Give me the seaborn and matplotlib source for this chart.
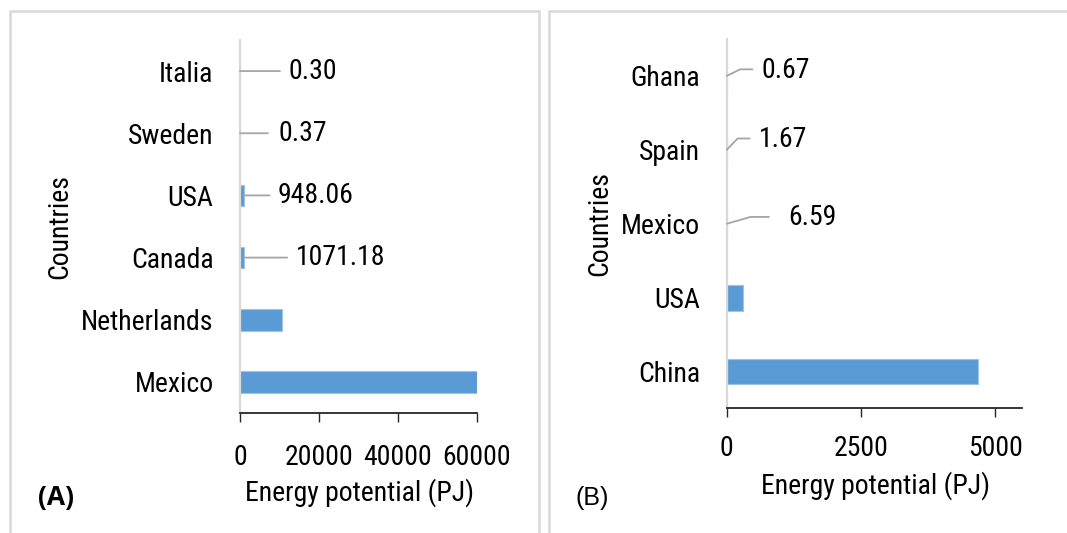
import matplotlib
matplotlib.use("Agg")
import matplotlib.pyplot as plt
import seaborn as sns
import pandas as pd
from matplotlib.patches import Rectangle
from matplotlib import font_manager

# Panel A: energy potential by country (PJ)
countries_a = ["Italia", "Sweden", "USA", "Canada", "Netherlands", "Mexico"]
energy_a = [0.30, 0.37, 948.06, 1071.18, 10700, 60000]
labelled_a = [True, True, True, True, False, False]
ticks_a = [0, 20000, 40000, 60000]

# Panel B: energy potential by country (PJ)
countries_b = ["Ghana", "Spain", "Mexico", "USA", "China"]
energy_b = [0.67, 1.67, 6.59, 300, 4690]
labelled_b = [True, True, True, False, False]
ticks_b = [0, 2500, 5000]

sns.set_theme(style="white")

# prefer a narrow sans face when one is installed
_entries = font_manager.fontManager.ttflist
_names = {f.name for f in _entries}
_narrow = None
for cand in ["Liberation Sans Narrow", "Arial Narrow", "Roboto Condensed",
             "Open Sans Condensed", "DejaVu Sans Condensed"]:
    if cand in _names:
        _narrow = cand
        break
STRETCH = "normal"
if _narrow is None:
    for f in _entries:
        if f.name in ("Roboto", "DejaVu Sans", "Open Sans") and str(f.stretch) in ("condensed", "semi-condensed", "75", "87.5"):
            _narrow = f.name
            STRETCH = "condensed"
            break
families = ([_narrow] if _narrow else []) + ["Liberation Sans", "DejaVu Sans"]
plt.rcParams["font.family"] = families
plt.rcParams["font.stretch"] = STRETCH
FS = 20 if _narrow else 18

BAR = "#5B9BD5"
BAR_EDGE = "#9DC3E6"
LEADER = "#A6A6A6"
AXIS_LIGHT = "#D9D9D9"
AXIS_DARK = "#262626"

W, H = 1067, 533
fig = plt.figure(figsize=(W / 100, H / 100), dpi=100)
fig.patch.set_facecolor("white")


def px_axes(x0, y_top, x1, y_bot):
    return fig.add_axes([x0 / W, 1 - y_bot / H, (x1 - x0) / W, (y_bot - y_top) / H])


ax_a = px_axes(240, 40, 477, 413)
ax_b = px_axes(726.6, 39, 1022, 408.4)

# leader-line styling per labelled bar: (line dx, line dy, text dx, text dy, bend angle)
leaders_a = [(40, 0, 48, 0, 0), (28, 0, 38, 0, 0), (26, 0, 34, 0, 0), (43, 0, 52, 0, 0)]
leaders_b = [(25.7, 6.6, 34.7, 5.6, 26), (23, 11.3, 32, 10, 46), (42, 6.8, 61, 6.2, 16)]


def draw_panel(ax, countries, values, labelled, ticks, xmax, leaders,
               ylab_x, xlab_y, xpad):
    df = pd.DataFrame({"Country": countries, "Energy": values})
    sns.barplot(data=df, x="Energy", y="Country", orient="h", ax=ax,
                color=BAR, width=0.35, edgecolor=BAR_EDGE, linewidth=0.8,
                saturation=1)
    ax.set_xlim(0, xmax)
    ax.set_ylim(len(countries) - 0.5, -0.5)
    ax.set_xticks(ticks)
    ax.set_xticklabels([str(t) for t in ticks])
    for s in ("top", "right"):
        ax.spines[s].set_visible(False)
    ax.spines["left"].set_color(AXIS_LIGHT)
    ax.spines["left"].set_linewidth(1.6)
    ax.spines["bottom"].set_color(AXIS_DARK)
    ax.spines["bottom"].set_linewidth(1.3)
    ax.tick_params(axis="x", bottom=True, direction="out", length=6.5, width=1.0,
                   color=AXIS_DARK, labelsize=FS, labelcolor="black", pad=xpad)
    ax.tick_params(axis="y", left=False, length=0, labelsize=FS, labelcolor="black", pad=19)
    ax.set_xlabel("Energy potential (PJ)", fontsize=FS, color="black", va="center")
    ax.set_ylabel("Countries", fontsize=FS, color="black", va="center")
    ax.xaxis.set_label_coords(0.505, xlab_y)
    ax.yaxis.set_label_coords(ylab_x, 0.5)
    ax.grid(False)

    k = 0
    for i, (v, lab) in enumerate(zip(values, labelled)):
        if not lab:
            continue
        lx, ly, tx, ty, ang = leaders[k]
        k += 1
        cs = "arc3" if ang == 0 else f"angle,angleA=0,angleB={ang},rad=0"
        ax.annotate("", xy=(v, i), xytext=(lx, ly), textcoords="offset pixels",
                    arrowprops=dict(arrowstyle="-", color=LEADER, lw=1.3,
                                    shrinkA=0, shrinkB=0, connectionstyle=cs))
        ax.annotate(f"{v:.2f}", xy=(v, i), xytext=(tx, ty), textcoords="offset pixels",
                    ha="left", va="center", fontsize=FS, color="black")


draw_panel(ax_a, countries_a, energy_a, labelled_a, ticks_a, 60000, leaders_a,
           -0.76, -0.2145, 16)
draw_panel(ax_b, countries_b, energy_b, labelled_b, ticks_b, 5500, leaders_b,
           -0.43, -0.209, 12.5)

# panel frames
for x0, x1 in ((10, 539), (549, 1080)):
    fig.add_artist(Rectangle((x0 / W, -0.05), (x1 - x0) / W, 1.05 - 11 / H,
                             transform=fig.transFigure, fill=False,
                             edgecolor=AXIS_LIGHT, linewidth=1.8))

fig.text(38 / W, 1 - 498 / H, "(A)", fontsize=19, fontweight="bold",
         family=["Open Sans", "DejaVu Sans"], stretch="normal",
         ha="left", va="center", color="black")
fig.text(575 / W, 1 - 498 / H, "(B)", fontsize=18, stretch="normal",
         family=["Liberation Sans", "DejaVu Sans"], ha="left", va="center", color="black")

fig.savefig("out.png", dpi=100, facecolor="white")
